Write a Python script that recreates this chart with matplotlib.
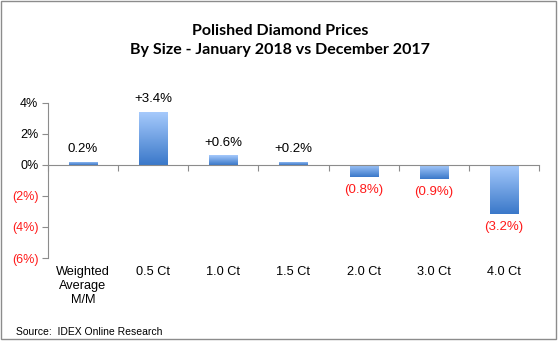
import numpy as np
import matplotlib.pyplot as plt
from matplotlib.colors import LinearSegmentedColormap
from matplotlib.patches import Rectangle

# Datos
categorias = ["Weighted\nAverage\nM/M", "0.5 Ct", "1.0 Ct", "1.5 Ct", "2.0 Ct", "3.0 Ct", "4.0 Ct"]
valores = [0.2, 3.4, 0.6, 0.2, -0.8, -0.9, -3.2]
etiquetas = ["0.2%", "+3.4%", "+0.6%", "+0.2%", "(0.8%)", "(0.9%)", "(3.2%)"]
ticks_y = [4, 2, 0, -2, -4, -6]
ticks_y_txt = ["4%", "2%", "0%", "(2%)", "(4%)", "(6%)"]

rojo = "#ff1a1a"
gris = "#8c8c8c"
degradado = LinearSegmentedColormap.from_list("azul", ["#3a78c9", "#a6cafc"])

fig = plt.figure(figsize=(5.6, 3.41), dpi=100)
ax = fig.add_axes([0.0857, 0.2434, 0.8768, 0.4556])

x = np.arange(len(categorias))
barras = ax.bar(x, valores, width=0.4, color="none", edgecolor="none", zorder=2)

# Relleno en degradado (claro arriba, oscuro abajo)
grad = np.linspace(0, 1, 256).reshape(-1, 1)
for b in barras:
    x0, y0 = b.get_x(), b.get_y()
    w, h = b.get_width(), b.get_height()
    ymin, ymax = min(y0, y0 + h), max(y0, y0 + h)
    im = ax.imshow(grad, cmap=degradado, aspect="auto", origin="lower",
                   extent=[x0, x0 + w, ymin, ymax], zorder=2)
    im.set_clip_path(b)

for xi, v, t in zip(x, valores, etiquetas):
    if v >= 0:
        ax.annotate(t, (xi, v), xytext=(0, 5), textcoords="offset points",
                    ha="center", va="bottom", fontsize=9.5, color="black",
                    family="Liberation Sans")
    else:
        ax.annotate(t, (xi, v), xytext=(0, -5), textcoords="offset points",
                    ha="center", va="top", fontsize=9.5, color=rojo,
                    family="Liberation Sans")

ax.set_xlim(-0.5, len(categorias) - 0.5)
ax.set_ylim(-6, 4)

# Eje x en cero con marcas en los límites de categoría
ax.spines["top"].set_visible(False)
ax.spines["right"].set_visible(False)
ax.spines["bottom"].set_position(("data", 0))
ax.spines["bottom"].set_color(gris)
ax.spines["left"].set_color(gris)
ax.set_xticks(np.arange(len(categorias) + 1) - 0.5)
ax.set_xticklabels([])
ax.tick_params(axis="x", direction="out", length=4, color=gris)

ax.set_yticks(ticks_y)
ax.set_yticklabels(ticks_y_txt, family="Liberation Sans", fontsize=9)
ax.tick_params(axis="y", direction="out", length=4, color=gris, pad=3)
for lbl, v in zip(ax.get_yticklabels(), ticks_y):
    lbl.set_color(rojo if v < 0 else "black")

for xi, c in zip(x, categorias):
    ax.annotate(c, (xi, -6), xytext=(0, -6), textcoords="offset points",
                ha="center", va="top", fontsize=9.2, family="Liberation Sans",
                linespacing=1.2)

fig.text(0.5, 0.93, "Polished Diamond Prices\nBy Size - January 2018 vs December 2017",
         ha="center", va="top", fontsize=11.5, fontweight="bold",
         family="Lato", linespacing=1.45)

fig.text(0.029, 0.027, "Source:  IDEX Online Research", ha="left", va="center",
         fontsize=7.5, family="Liberation Sans")

# Marco del gráfico
fig.patches.append(Rectangle((0.002, 0.006), 0.99, 0.99, transform=fig.transFigure,
                             fill=False, edgecolor=gris, linewidth=1))

fig.savefig("out.png", dpi=100)
